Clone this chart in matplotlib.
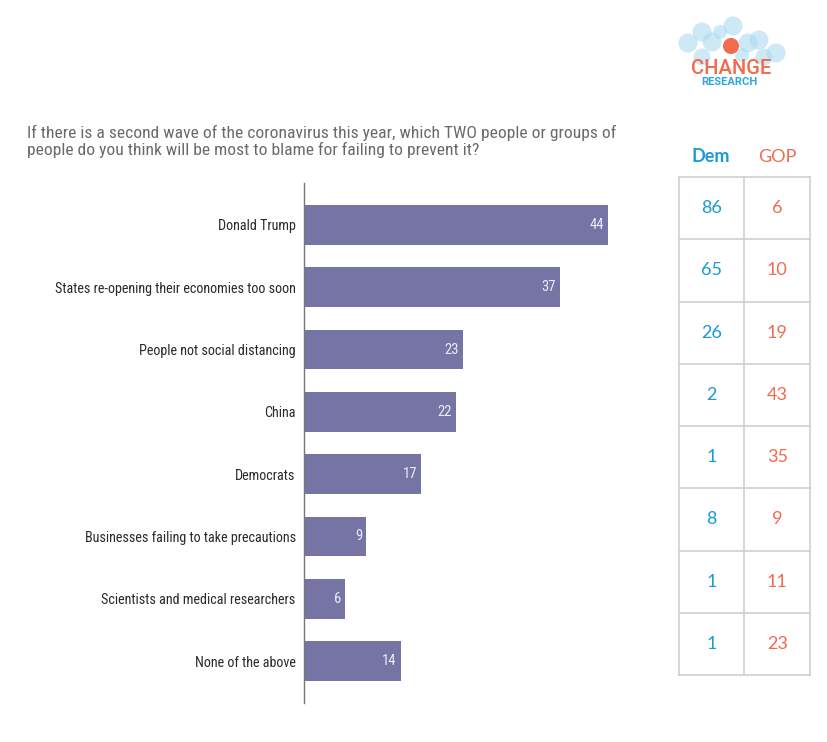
import matplotlib
matplotlib.use("Agg")
import matplotlib.pyplot as plt
from matplotlib.patches import Circle

# data
categories = [
    "Donald Trump",
    "States re-opening their economies too soon",
    "People not social distancing",
    "China",
    "Democrats",
    "Businesses failing to take precautions",
    "Scientists and medical researchers",
    "None of the above",
]
overall = [44, 37, 23, 22, 17, 9, 6, 14]
dem = [86, 65, 26, 2, 1, 8, 1, 1]
gop = [6, 10, 19, 43, 35, 9, 11, 23]

title = ("If there is a second wave of the coronavirus this year, which TWO people or groups of\n"
         "people do you think will be most to blame for failing to prevent it?")

BAR = "#7674a5"
BLUE = "#1a9ad6"
ORANGE = "#f26b4f"
GRID = "#cfcfcf"

narrow = ["Roboto Condensed", "Liberation Sans", "DejaVu Sans"]
W, H = 828, 742
fig = plt.figure(figsize=(W / 100, H / 100), dpi=100)
fig.patch.set_facecolor("white")


def box(x0, y0, x1, y1):
    # pixel box (top-left origin) -> figure fraction rect
    return [x0 / W, 1 - y1 / H, (x1 - x0) / W, (y1 - y0) / H]


# bar chart
ax = fig.add_axes(box(304, 183, 640, 703))
n = len(categories)
ys = list(range(n))
ax.barh(ys, overall, height=0.64, color=BAR, edgecolor="none")
ax.set_xlim(0, 336 / 6.91)
ax.set_ylim(n - 1 + 0.674, -0.674)
for y, v in zip(ys, overall):
    ax.text(v - 0.6, y, str(v), ha="right", va="center", color="#ecebf5",
            fontsize=10.5, family=narrow)
ax.set_yticks(ys)
ax.set_yticklabels(categories, family=narrow, fontsize=10.2, color="#2a2a2a")
ax.tick_params(axis="y", length=0, pad=6)
ax.set_xticks([])
for s in ["top", "right", "bottom"]:
    ax.spines[s].set_visible(False)
ax.spines["left"].set_color("#777777")
ax.spines["left"].set_linewidth(1)

fig.text(27 / W, 1 - 125 / H, title, ha="left", va="top", fontsize=12.6,
         color="#6a6a6a", family=narrow, linespacing=1.08)

# party table
tx = fig.add_axes(box(679, 177, 810, 675))
tx.set_xlim(0, 2)
tx.set_ylim(n, 0)
tx.axis("off")
for i in range(n + 1):
    tx.plot([0, 2], [i, i], color=GRID, lw=1.2, clip_on=False)
for j in range(3):
    tx.plot([j, j], [0, n], color=GRID, lw=1.2, clip_on=False)
for i in range(n):
    tx.text(0.5, i + 0.5, str(dem[i]), ha="center", va="center", color=BLUE,
            fontsize=13, family="Lato")
    tx.text(1.5, i + 0.5, str(gop[i]), ha="center", va="center", color=ORANGE,
            fontsize=13, family="Lato")
fig.text(711 / W, 1 - 157 / H, "Dem", ha="center", va="center", color=BLUE,
         fontsize=13, fontweight="bold", family="Lato")
fig.text(777 / W, 1 - 157 / H, "GOP", ha="center", va="center", color=ORANGE,
         fontsize=13, family="Lato")

# logo
lg = fig.add_axes([0, 0, 1, 1], zorder=-1)
lg.set_xlim(0, W)
lg.set_ylim(H, 0)
lg.axis("off")
for cx, cy, r in [(688, 43, 9.5), (702, 32, 9.5), (712, 42, 9.5), (733, 26, 9.5),
                  (748, 43, 9.5), (759, 40, 9.5), (776, 53, 9.5), (702, 57, 8.5),
                  (764, 57, 8.5), (720, 32, 7), (742, 55, 7)]:
    lg.add_patch(Circle((cx, cy), r, color="#a6d7f0", alpha=0.55, lw=0))
lg.add_patch(Circle((731, 46), 8, color="#f26b4f", lw=0))
lg.text(731, 68, "CHANGE", ha="center", va="center", color="#f26b4f",
        fontsize=14.5, family="Roboto", fontweight="medium")
lg.text(729, 82, "RESEARCH", ha="center", va="center", color="#2aa7dd",
        fontsize=8, fontweight="bold", family="Roboto")

fig.savefig("out.png", dpi=100, facecolor="white")
